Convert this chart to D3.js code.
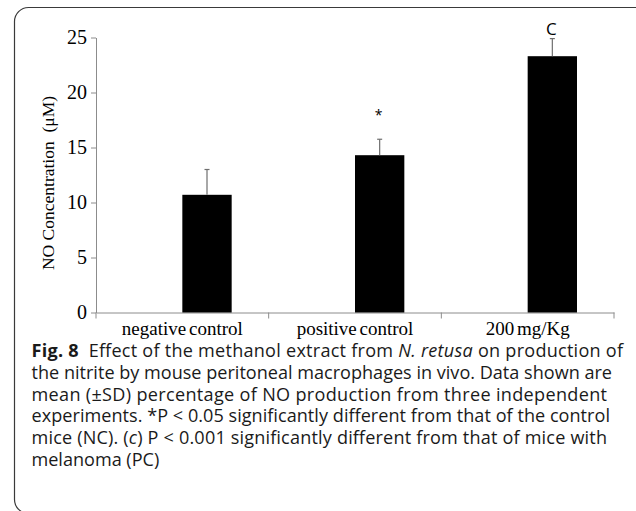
<!DOCTYPE html>
<html>
<head>
<meta charset="utf-8">
<script src="https://cdn.jsdelivr.net/npm/d3@7"></script>
<style>
  html, body { margin: 0; padding: 0; background: #ffffff; }
  svg { display: block; }
</style>
</head>
<body>
<svg id="chart" width="636" height="511"></svg>
<script>
// ---- data ----
const categories = ["negative control", "positive control", "200 mg/Kg"];
const series = ["blank", "NO"];
const values = [10.7, 14.3, 23.3];
const sdValues = [2.3, 1.45, 1.6];
const annotations = ["", "*", "C"];
const yTicks = [0, 5, 10, 15, 20, 25];
const yTitle = "NO Concentration  (\u03BCM)";
const captionLines = [
  [{t: "Fig. 8", b: true}, {t: "  Effect of the methanol extract from "}, {t: "N. retusa", i: true}, {t: " on production of"}],
  [{t: "the nitrite by mouse peritoneal macrophages in vivo. Data shown are"}],
  [{t: "mean (\u00B1SD) percentage of NO production from three independent"}],
  [{t: "experiments. *P < 0.05 significantly different from that of the control"}],
  [{t: "mice (NC). ("}, {t: "c", i: true}, {t: ") P < 0.001 significantly different from that of mice with"}],
  [{t: "melanoma (PC)"}]
];
const captionLineEnds = [623, 612, 607, 610, 607, null];

const svg = d3.select("#chart");

// frame
svg.append("rect")
  .attr("x", 14.5).attr("y", 7.5)
  .attr("width", 640).attr("height", 506)
  .attr("rx", 14).attr("ry", 14)
  .attr("fill", "none").attr("stroke", "#3a3a3a").attr("stroke-width", 1.2);

const plotLeft = 96, plotRight = 614, plotBottom = 312.5, plotTop = 37.5;

const x = d3.scaleBand().domain(categories).range([plotLeft, plotRight]).padding(0);
const xs = d3.scaleBand().domain(series).range([0, x.bandwidth()]).paddingInner(0).paddingOuter(0.75);
const y = d3.scaleLinear().domain([0, 25]).range([plotBottom, plotTop]);

const axisColor = "#8c8c8c";
const serif = "'Liberation Serif', 'Times New Roman', serif";

// y axis
const yAxis = svg.append("g")
  .attr("transform", `translate(${plotLeft},0)`)
  .call(d3.axisLeft(y).tickValues(yTicks).tickSize(5).tickPadding(4).tickSizeOuter(0).tickFormat(d3.format("d")));
yAxis.select(".domain").attr("stroke", axisColor);
yAxis.selectAll(".tick line").attr("stroke", axisColor);
yAxis.selectAll(".tick text")
  .attr("font-family", serif).attr("font-size", 20).attr("fill", "#000");

// x axis (labels)
const xAxis = svg.append("g")
  .attr("transform", `translate(0,${plotBottom})`)
  .call(d3.axisBottom(x).tickSize(0).tickPadding(9).tickSizeOuter(0));
xAxis.select(".domain").attr("stroke", axisColor);
xAxis.selectAll(".tick text")
  .attr("font-family", serif).attr("font-size", 19).attr("fill", "#000")
  .attr("word-spacing", -2);

// category boundary ticks
const bounds = categories.map(c => x(c)).concat([x(categories[categories.length - 1]) + x.bandwidth()]);
svg.append("g").selectAll("line").data(bounds).join("line")
  .attr("x1", d => d).attr("x2", d => d)
  .attr("y1", plotBottom).attr("y2", plotBottom + 6)
  .attr("stroke", axisColor).attr("stroke-width", 1);

// bars
const barX = (i) => x(categories[i]) + xs("NO");
svg.append("g").selectAll("rect").data(values).join("rect")
  .attr("x", (d, i) => barX(i))
  .attr("y", d => y(d))
  .attr("width", xs.bandwidth())
  .attr("height", d => y(0) - y(d))
  .attr("fill", "#000");

// error bars (upper only)
const eb = svg.append("g").attr("stroke", "#6e6e6e").attr("stroke-width", 1.2);
values.forEach((v, i) => {
  const cx = barX(i) + xs.bandwidth() / 2;
  eb.append("line").attr("x1", cx).attr("x2", cx).attr("y1", y(v)).attr("y2", y(v + sdValues[i]));
  eb.append("line").attr("x1", cx - 2.5).attr("x2", cx + 2.5).attr("y1", y(v + sdValues[i])).attr("y2", y(v + sdValues[i]));
});

// significance annotations
const annOffset = [0, 25, 10];
const annSize = [14, 14, 17];
svg.append("g").selectAll("text").data(annotations).join("text")
  .attr("x", (d, i) => barX(i) + xs.bandwidth() / 2 - 1)
  .attr("y", (d, i) => y(values[i] + sdValues[i]) - annOffset[i])
  .attr("text-anchor", "middle")
  .attr("dominant-baseline", "central")
  .attr("font-family", "'Open Sans', sans-serif")
  .attr("font-size", (d, i) => annSize[i])
  .attr("fill", "#000")
  .text(d => d);

// y title
svg.append("text")
  .attr("transform", `translate(48,${(plotTop + plotBottom) / 2 + 8}) rotate(-90)`)
  .attr("text-anchor", "middle")
  .attr("dominant-baseline", "central")
  .attr("font-family", serif).attr("font-size", 17.5).attr("fill", "#000")
  .attr("xml:space", "preserve")
  .text(yTitle);

// caption
const cap = svg.append("g")
  .attr("font-family", "'Open Sans', sans-serif")
  .attr("font-size", 16).attr("fill", "#1a1a1a");
const capX = 31.5, capY0 = 357, capDy = 21.8, capTargetRight = 612;
const capTexts = captionLines.map((line, li) => {
  const t = cap.append("text").attr("x", capX).attr("y", capY0 + li * capDy).attr("xml:space", "preserve");
  line.forEach(seg => {
    t.append("tspan")
      .attr("font-weight", seg.b ? 700 : 400)
      .attr("font-style", seg.i ? "italic" : "normal")
      .text(seg.t);
  });
  return t;
});
// fit caption font size so that line 2 spans the same width as in the figure
const w2 = capTexts[1].node().getComputedTextLength();
cap.attr("font-size", 16 * (capTargetRight - capX) / w2);
capTexts.forEach((t, i) => {
  if (captionLineEnds[i] != null) {
    t.attr("textLength", captionLineEnds[i] - capX).attr("lengthAdjust", "spacing");
  }
});
</script>
</body>
</html>
